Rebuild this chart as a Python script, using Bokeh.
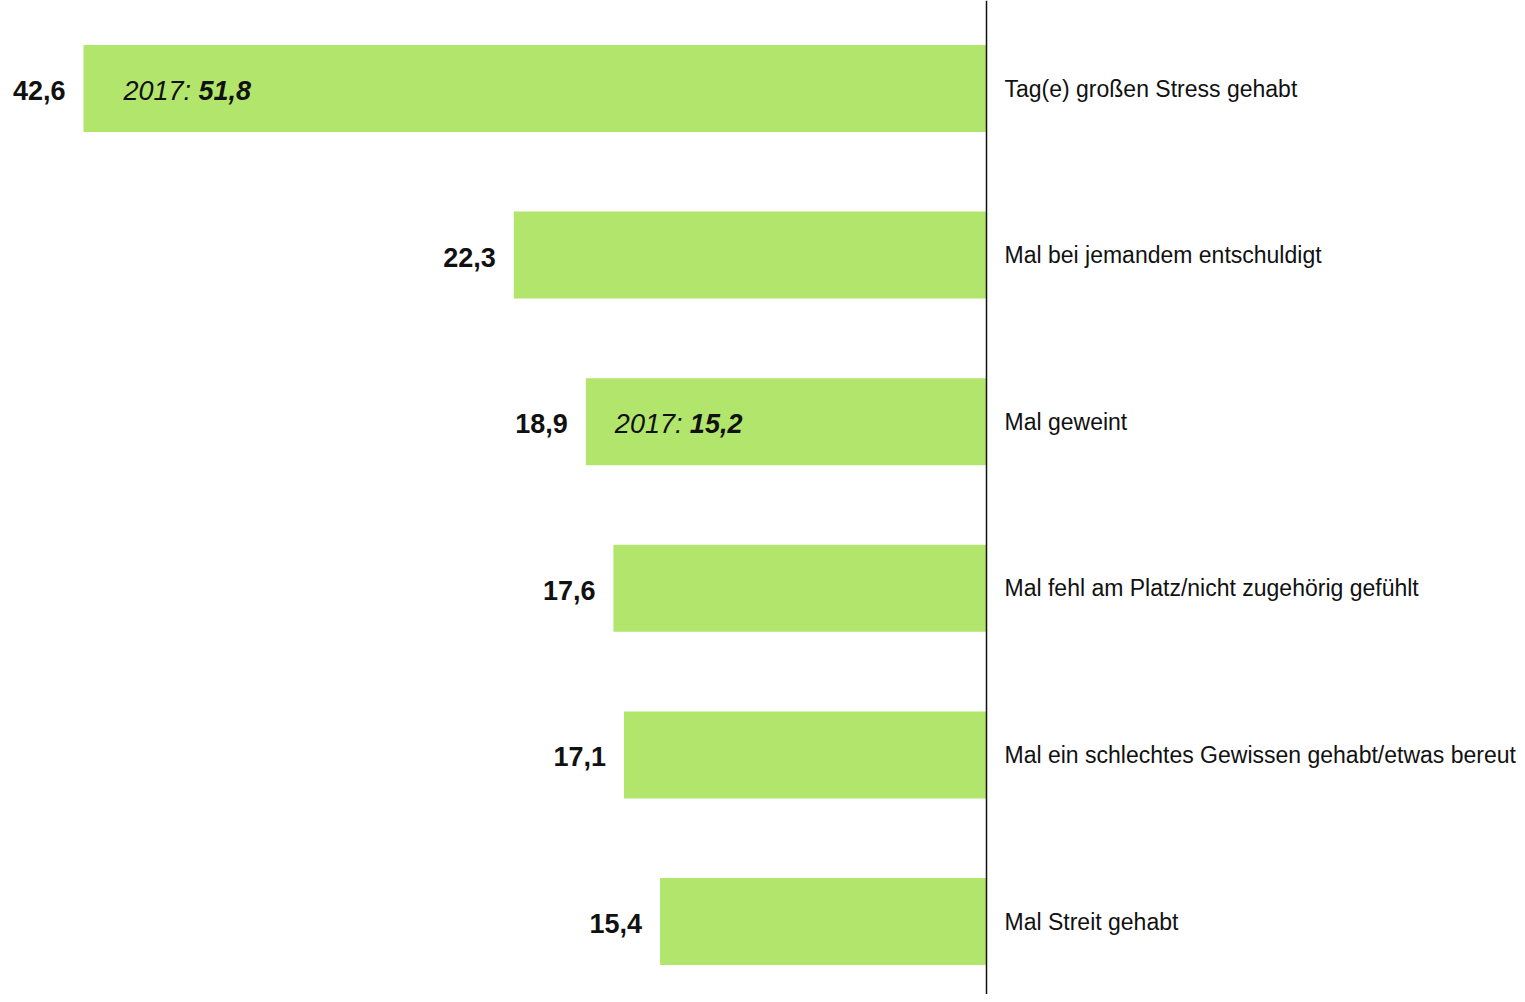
from bokeh.plotting import figure
from bokeh.models import Range1d, Span, ColumnDataSource
from bokeh.core.properties import value
from bokeh.embed import file_html
from bokeh.resources import INLINE

categories = [
    "Tag(e) großen Stress gehabt",
    "Mal bei jemandem entschuldigt",
    "Mal geweint",
    "Mal fehl am Platz/nicht zugehörig gefühlt",
    "Mal ein schlechtes Gewissen gehabt/etwas bereut",
    "Mal Streit gehabt",
]
values = [42.6, 22.3, 18.9, 17.6, 17.1, 15.4]
labels = ["42,6", "22,3", "18,9", "17,6", "17,1", "15,4"]

# 2017 comparison notes: (row index, year text, value text)
note_rows = [0, 2]
note_years = ["2017: ", "2017: "]
note_values = ["51,8", "15,2"]

W, H = 1517, 994
zero_px = 986
scale = 903 / 42.6
row_px = 166.6
first_center_px = 88

FONT = value("Liberation Sans")
BAR = "#b2e56b"

p = figure(width=W, height=H, output_backend="svg", toolbar_location=None,
           x_range=Range1d(-zero_px / scale, (W - zero_px) / scale),
           y_range=Range1d((H - first_center_px) / row_px, -first_center_px / row_px),
           min_border=0, min_border_left=0, min_border_right=0,
           min_border_top=0, min_border_bottom=0)
p.axis.visible = False
p.grid.visible = False
p.outline_line_color = None
p.background_fill_color = "white"

ys = list(range(len(categories)))
src = ColumnDataSource(dict(y=ys, left=[-v for v in values], right=[0] * len(values),
                            lab=labels, cat=categories))
p.hbar(y="y", left="left", right="right", height=87 / row_px, source=src,
       fill_color=BAR, line_color=None)

p.add_layout(Span(location=0, dimension="height", line_color="#111111", line_width=1.5))

p.text(x="left", y="y", text="lab", source=src, text_align="right", text_baseline="middle",
       x_offset=-18, y_offset=2, text_font=FONT, text_font_size="27px", text_font_style="bold",
       text_color="#111111")
p.text(x="right", y="y", text="cat", source=src, text_align="left",
       text_baseline="middle", x_offset=18, y_offset=0, text_font=FONT, text_font_size="23px",
       text_color="#111111")

note_offsets = [40, 29]
for r, yr, nv, off in zip(note_rows, note_years, note_values, note_offsets):
    p.text(x=[-values[r]], y=[r], text=[yr], text_align="left", text_baseline="middle",
           x_offset=off, y_offset=2, text_font=FONT, text_font_size="27px",
           text_font_style="italic", text_color="#111111")
    p.text(x=[-values[r]], y=[r], text=[nv], text_align="left", text_baseline="middle",
           x_offset=off + 75, y_offset=2, text_font=FONT, text_font_size="27px",
           text_font_style="bold italic", text_color="#111111")

open("out.html", "w").write(file_html(p, INLINE))
